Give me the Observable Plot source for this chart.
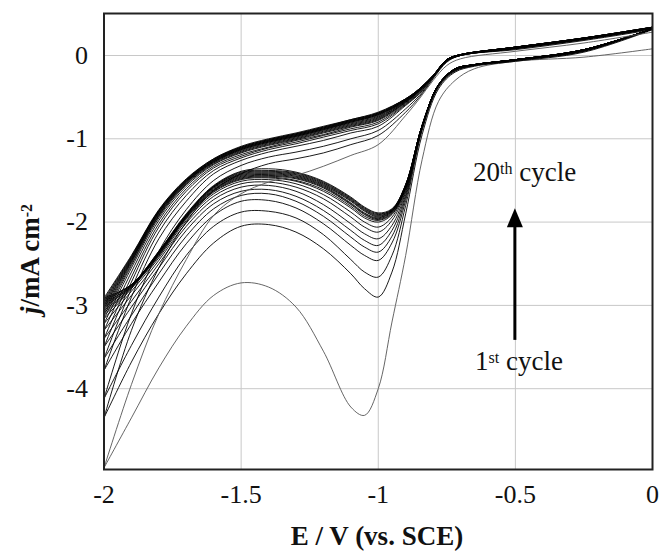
<!DOCTYPE html>
<html>
<head>
<meta charset="utf-8">
<script src="https://cdn.jsdelivr.net/npm/d3@7"></script>
<script src="https://cdn.jsdelivr.net/npm/@observablehq/plot@0.6"></script>
<style>
  html, body { margin: 0; padding: 0; background: #fff; }
  svg { display: block; }
</style>
</head>
<body>
<div id="chart"></div>
<script>
// Potential grids (V vs SCE)
const EF = [0, -0.25, -0.5, -0.65, -0.72, -0.78, -0.84, -0.9, -0.95, -1.0, -1.05, -1.1, -1.2, -1.3, -1.4, -1.5, -1.6, -1.7, -1.8, -1.9, -2.0];
const ER = [-2.0, -1.9, -1.8, -1.7, -1.6, -1.5, -1.4, -1.3, -1.2, -1.1, -1.0, -0.9, -0.85, -0.8, -0.75, -0.7, -0.5, -0.25, 0];

// Cathodic (forward) scans, cycles 1..20, j in mA cm-2 at EF
const forward = [
  [0.08, -0.02, -0.07, -0.16, -0.30, -0.55, -1.25, -2.40, -3.20, -4.00, -4.32, -4.22, -3.55, -3.02, -2.78, -2.73, -2.88, -3.25, -3.75, -4.35, -4.95],
  [0.31, 0.04, -0.07, -0.13, -0.20, -0.40, -0.95, -1.90, -2.60, -2.90, -2.80, -2.62, -2.32, -2.12, -2.03, -2.05, -2.25, -2.62, -3.10, -3.68, -4.35],
  [0.32, 0.05, -0.06, -0.12, -0.19, -0.38, -0.90, -1.80, -2.40, -2.66, -2.60, -2.45, -2.15, -1.95, -1.87, -1.88, -2.05, -2.40, -2.90, -3.48, -4.12],
  [0.32, 0.05, -0.06, -0.12, -0.18, -0.37, -0.88, -1.74, -2.25, -2.46, -2.40, -2.28, -2.02, -1.83, -1.74, -1.75, -1.92, -2.26, -2.72, -3.22, -3.78],
  [0.32, 0.06, -0.06, -0.12, -0.18, -0.36, -0.87, -1.70, -2.17, -2.36, -2.30, -2.18, -1.93, -1.75, -1.66, -1.68, -1.84, -2.17, -2.62, -3.12, -3.64],
  [0.32, 0.06, -0.05, -0.11, -0.17, -0.36, -0.86, -1.67, -2.10, -2.28, -2.22, -2.10, -1.86, -1.69, -1.61, -1.63, -1.78, -2.10, -2.55, -3.02, -3.50],
  [0.32, 0.06, -0.05, -0.11, -0.17, -0.35, -0.86, -1.64, -2.04, -2.20, -2.14, -2.02, -1.79, -1.63, -1.56, -1.58, -1.73, -2.05, -2.50, -2.95, -3.40],
  [0.32, 0.06, -0.05, -0.11, -0.17, -0.35, -0.85, -1.62, -1.98, -2.12, -2.06, -1.94, -1.72, -1.58, -1.52, -1.54, -1.69, -2.01, -2.46, -2.88, -3.30],
  [0.32, 0.07, -0.05, -0.11, -0.16, -0.35, -0.85, -1.60, -1.94, -2.06, -2.00, -1.88, -1.67, -1.54, -1.49, -1.51, -1.66, -1.98, -2.43, -2.83, -3.22],
  [0.32, 0.07, -0.05, -0.11, -0.16, -0.35, -0.85, -1.59, -1.91, -2.00, -1.95, -1.83, -1.63, -1.51, -1.47, -1.49, -1.64, -1.96, -2.41, -2.80, -3.16],
  [0.32, 0.07, -0.05, -0.11, -0.16, -0.35, -0.84, -1.58, -1.90, -1.98, -1.93, -1.81, -1.61, -1.50, -1.46, -1.48, -1.63, -1.95, -2.40, -2.79, -3.12],
  [0.32, 0.07, -0.05, -0.11, -0.16, -0.35, -0.84, -1.58, -1.89, -1.97, -1.91, -1.79, -1.59, -1.48, -1.45, -1.47, -1.62, -1.94, -2.39, -2.78, -3.09],
  [0.32, 0.07, -0.05, -0.11, -0.16, -0.35, -0.84, -1.57, -1.88, -1.96, -1.90, -1.78, -1.58, -1.47, -1.44, -1.46, -1.61, -1.94, -2.38, -2.78, -3.06],
  [0.32, 0.07, -0.05, -0.11, -0.16, -0.35, -0.84, -1.57, -1.87, -1.95, -1.89, -1.77, -1.57, -1.46, -1.43, -1.45, -1.60, -1.93, -2.38, -2.77, -3.03],
  [0.32, 0.07, -0.05, -0.11, -0.16, -0.35, -0.84, -1.56, -1.87, -1.94, -1.87, -1.75, -1.56, -1.45, -1.42, -1.44, -1.59, -1.93, -2.37, -2.77, -3.01],
  [0.32, 0.07, -0.05, -0.11, -0.16, -0.35, -0.84, -1.56, -1.86, -1.93, -1.86, -1.74, -1.55, -1.44, -1.41, -1.43, -1.58, -1.92, -2.37, -2.76, -2.99],
  [0.32, 0.07, -0.05, -0.11, -0.16, -0.35, -0.84, -1.56, -1.86, -1.92, -1.85, -1.73, -1.54, -1.43, -1.40, -1.42, -1.58, -1.92, -2.36, -2.76, -2.97],
  [0.32, 0.07, -0.05, -0.11, -0.16, -0.35, -0.84, -1.55, -1.85, -1.91, -1.84, -1.72, -1.53, -1.42, -1.39, -1.41, -1.57, -1.91, -2.36, -2.75, -2.95],
  [0.32, 0.07, -0.05, -0.11, -0.16, -0.35, -0.84, -1.55, -1.85, -1.90, -1.83, -1.71, -1.52, -1.41, -1.38, -1.40, -1.57, -1.91, -2.35, -2.75, -2.93],
  [0.32, 0.07, -0.05, -0.11, -0.16, -0.35, -0.84, -1.55, -1.84, -1.89, -1.82, -1.70, -1.51, -1.40, -1.36, -1.39, -1.56, -1.90, -2.35, -2.75, -2.91]
];

// Anodic (reverse) scans, cycles 1..20, j in mA cm-2 at ER
const reverse = [
  [-4.95, -3.95, -3.10, -2.45, -1.92, -1.66, -1.52, -1.44, -1.33, -1.20, -1.07, -0.72, -0.52, -0.30, -0.12, -0.04, 0.05, 0.15, 0.28],
  [-4.35, -3.30, -2.55, -2.00, -1.62, -1.42, -1.30, -1.24, -1.17, -1.07, -0.96, -0.68, -0.50, -0.28, -0.08, 0.00, 0.07, 0.18, 0.31],
  [-4.12, -3.10, -2.35, -1.85, -1.50, -1.32, -1.22, -1.16, -1.09, -1.00, -0.90, -0.64, -0.48, -0.27, -0.07, 0.00, 0.08, 0.19, 0.32],
  [-3.78, -2.90, -2.20, -1.75, -1.42, -1.26, -1.16, -1.09, -1.02, -0.93, -0.85, -0.60, -0.46, -0.26, -0.07, 0.00, 0.08, 0.19, 0.32],
  [-3.64, -2.80, -2.12, -1.68, -1.38, -1.23, -1.13, -1.06, -0.98, -0.90, -0.82, -0.59, -0.45, -0.26, -0.06, 0.00, 0.09, 0.20, 0.33],
  [-3.50, -2.72, -2.06, -1.63, -1.35, -1.21, -1.11, -1.04, -0.96, -0.88, -0.80, -0.58, -0.44, -0.25, -0.06, 0.00, 0.09, 0.20, 0.33],
  [-3.40, -2.66, -2.02, -1.60, -1.33, -1.19, -1.10, -1.02, -0.95, -0.86, -0.78, -0.57, -0.43, -0.25, -0.06, 0.01, 0.09, 0.20, 0.33],
  [-3.30, -2.60, -1.98, -1.57, -1.31, -1.17, -1.08, -1.01, -0.93, -0.85, -0.77, -0.56, -0.43, -0.25, -0.05, 0.01, 0.09, 0.20, 0.33],
  [-3.22, -2.55, -1.95, -1.55, -1.30, -1.16, -1.07, -1.00, -0.92, -0.84, -0.76, -0.56, -0.42, -0.25, -0.05, 0.01, 0.09, 0.20, 0.33],
  [-3.16, -2.52, -1.93, -1.54, -1.29, -1.15, -1.06, -0.99, -0.91, -0.83, -0.75, -0.55, -0.42, -0.25, -0.05, 0.01, 0.09, 0.20, 0.33],
  [-3.12, -2.50, -1.92, -1.53, -1.28, -1.14, -1.05, -0.98, -0.90, -0.82, -0.74, -0.55, -0.42, -0.25, -0.05, 0.01, 0.10, 0.20, 0.33],
  [-3.09, -2.48, -1.91, -1.52, -1.28, -1.13, -1.04, -0.97, -0.89, -0.81, -0.73, -0.54, -0.41, -0.25, -0.05, 0.01, 0.10, 0.20, 0.33],
  [-3.06, -2.47, -1.90, -1.52, -1.27, -1.13, -1.04, -0.97, -0.89, -0.80, -0.72, -0.54, -0.41, -0.25, -0.05, 0.01, 0.10, 0.21, 0.33],
  [-3.03, -2.46, -1.89, -1.51, -1.27, -1.12, -1.03, -0.96, -0.88, -0.80, -0.71, -0.54, -0.41, -0.25, -0.05, 0.01, 0.10, 0.21, 0.33],
  [-3.01, -2.45, -1.88, -1.51, -1.26, -1.12, -1.03, -0.96, -0.88, -0.79, -0.71, -0.53, -0.41, -0.24, -0.05, 0.01, 0.10, 0.21, 0.34],
  [-2.99, -2.44, -1.88, -1.50, -1.26, -1.11, -1.02, -0.95, -0.87, -0.79, -0.70, -0.53, -0.41, -0.24, -0.05, 0.01, 0.10, 0.21, 0.34],
  [-2.97, -2.43, -1.87, -1.50, -1.25, -1.11, -1.02, -0.95, -0.87, -0.78, -0.70, -0.53, -0.40, -0.24, -0.05, 0.01, 0.10, 0.21, 0.34],
  [-2.95, -2.42, -1.86, -1.49, -1.25, -1.10, -1.01, -0.94, -0.86, -0.78, -0.69, -0.52, -0.40, -0.24, -0.05, 0.01, 0.10, 0.21, 0.34],
  [-2.93, -2.41, -1.86, -1.49, -1.24, -1.10, -1.01, -0.94, -0.86, -0.77, -0.69, -0.52, -0.40, -0.24, -0.05, 0.01, 0.10, 0.21, 0.34],
  [-2.91, -2.40, -1.85, -1.48, -1.24, -1.09, -1.00, -0.93, -0.85, -0.77, -0.68, -0.52, -0.40, -0.24, -0.05, 0.01, 0.10, 0.21, 0.34]
];

const xTicks = [-2, -1.5, -1, -0.5, 0];
const yTicks = [0, -1, -2, -3, -4];
const xGrid = [-1.5, -1, -0.5];
const yGrid = [0, -1, -2, -3, -4];

// Annotation arrow (E, j from/to)
const arrowE = -0.5, arrowFrom = -3.42, arrowTo = -1.84;

// Build tidy rows
const rows = [];
forward.forEach((js, i) => js.forEach((j, k) => rows.push({E: EF[k], j, cycle: i + 1, key: `f${i + 1}`})));
reverse.forEach((js, i) => js.forEach((j, k) => rows.push({E: ER[k], j, cycle: i + 1, key: `r${i + 1}`})));

const serif = "'Liberation Serif', 'Times New Roman', serif";

const plot = Plot.plot({
  width: 659,
  height: 554,
  marginLeft: 103.5,
  marginRight: 7,
  marginTop: 13,
  marginBottom: 85,
  style: {fontFamily: serif, background: "#fff", color: "#111"},
  x: {domain: [-2, 0]},
  y: {domain: [-4.97, 0.504]},
  marks: [
    Plot.gridX(xGrid, {stroke: "#c8c8c8", strokeOpacity: 1, strokeWidth: 1}),
    Plot.gridY(yGrid, {stroke: "#c8c8c8", strokeOpacity: 1, strokeWidth: 1}),
    Plot.line(rows, {x: "E", y: "j", z: "key", curve: "catmull-rom", clip: true,
      stroke: d => d.cycle === 1 ? "#555" : "#000", strokeWidth: 0.9}),
    Plot.axisX({ticks: xTicks, tickFormat: d => String(d), tickSize: 0, tickPadding: 15, fontSize: 26, fontFamily: serif, label: null}),
    Plot.axisY({ticks: yTicks, tickFormat: d => String(d), tickSize: 0, tickPadding: 16, fontSize: 26, fontFamily: serif, label: null}),
    Plot.frame({stroke: "#222", strokeWidth: 2})
  ]
});

document.getElementById("chart").appendChild(plot);

const svg = d3.select(plot);
const sx = plot.scale("x"), sy = plot.scale("y");

// Arrow
const ax = sx.apply(arrowE), ay0 = sy.apply(arrowFrom), ay1 = sy.apply(arrowTo);
svg.append("line").attr("x1", ax).attr("x2", ax).attr("y1", ay0).attr("y2", ay1 + 16)
  .attr("stroke", "#000").attr("stroke-width", 3);
svg.append("path").attr("d", `M${ax},${ay1} L${ax - 8},${ay1 + 19} L${ax + 8},${ay1 + 19} Z`).attr("fill", "#000");

// Annotations
const t20 = svg.append("text").attr("x", 473).attr("y", 181).attr("text-anchor", "start")
  .attr("font-family", serif).attr("font-size", 27).attr("fill", "#111");
t20.append("tspan").text("20");
t20.append("tspan").attr("dy", "-0.42em").attr("font-size", 16).text("th");
t20.append("tspan").attr("dy", "0.25em").text(" cycle");

const t1 = svg.append("text").attr("x", 475).attr("y", 370).attr("text-anchor", "start")
  .attr("font-family", serif).attr("font-size", 27).attr("fill", "#111");
t1.append("tspan").text("1");
t1.append("tspan").attr("dy", "-0.42em").attr("font-size", 16).text("st");
t1.append("tspan").attr("dy", "0.25em").text(" cycle");

// Axis titles
svg.append("text").attr("x", 377).attr("y", 545).attr("text-anchor", "middle")
  .attr("font-family", serif).attr("font-size", 27).attr("font-weight", "bold").attr("fill", "#111")
  .text("E / V (vs. SCE)");

const yl = svg.append("text").attr("transform", "translate(39,259) rotate(-90)").attr("text-anchor", "middle")
  .attr("font-family", serif).attr("font-size", 27).attr("font-weight", "bold").attr("fill", "#111");
yl.append("tspan").attr("font-style", "italic").text("j");
yl.append("tspan").text("/mA cm");
yl.append("tspan").attr("dy", "-0.42em").attr("font-size", 16).text("-2");
</script>
</body>
</html>
